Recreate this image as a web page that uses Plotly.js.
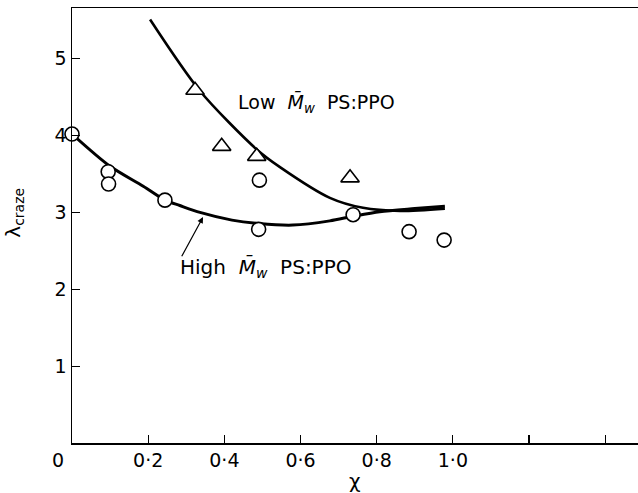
<!DOCTYPE html>
<html>
<head>
<meta charset="utf-8">
<script src="https://cdn.plot.ly/plotly-3.0.1.min.js"></script>
<style>html,body{margin:0;padding:0;background:#fff;}#chart{width:638px;height:493px;}</style>
</head>
<body>
<div id="chart"></div>
<script>
// High Mw PS:PPO data points (open circles)
const highX = [0.0, 0.095, 0.096, 0.244, 0.49, 0.492, 0.738, 0.885, 0.977];
const highY = [4.02, 3.53, 3.37, 3.16, 2.78, 3.42, 2.97, 2.75, 2.64];
// Low Mw PS:PPO data points (open triangles)
const lowX = [0.323, 0.393, 0.485, 0.730];
const lowY = [4.59, 3.86, 3.73, 3.45];
// Fitted curves
const highCurveX = [0.0, 0.1, 0.187, 0.244, 0.283, 0.336, 0.42, 0.491, 0.58, 0.677, 0.738, 0.808, 0.9, 0.979];
const highCurveY = [4.02, 3.60, 3.34, 3.16, 3.09, 3.00, 2.90, 2.855, 2.835, 2.89, 2.95, 3.01, 3.05, 3.08];
const lowCurveX = [0.205, 0.336, 0.485, 0.546, 0.677, 0.764, 0.861, 0.979];
const lowCurveY = [5.51, 4.58, 3.82, 3.59, 3.19, 3.06, 3.02, 3.05];
// Axis ticks
const xTickVals = [0.2, 0.4, 0.6, 0.8, 1.0, 1.2, 1.4];
const xTickText = ['0·2', '0·4', '0·6', '0·8', '1·0', '', ''];
const yTickVals = [1, 2, 3, 4, 5];
const yTickText = ['1', '2', '3', '4', '5'];

const FONT = 'DejaVu Sans, Arial, sans-serif';
const traces = [
  {x: highCurveX, y: highCurveY, mode: 'lines', line: {color: '#000', width: 3, shape: 'spline', smoothing: 0.8}, hoverinfo: 'skip'},
  {x: lowCurveX, y: lowCurveY, mode: 'lines', line: {color: '#000', width: 2.6, shape: 'spline', smoothing: 0.8}, hoverinfo: 'skip'},
  {x: highX, y: highY, mode: 'markers', marker: {symbol: 'circle', size: 14, color: '#fff', line: {color: '#000', width: 1.6}}, cliponaxis: false},
  {x: lowX, y: lowY, mode: 'markers', marker: {symbol: 'triangle-up', size: 16, color: '#fff', line: {color: '#000', width: 1.6}}, cliponaxis: false}
];

const layout = {
  width: 638, height: 493,
  margin: {l: 72, r: 0, t: 8, b: 50},
  paper_bgcolor: '#fff', plot_bgcolor: '#fff',
  showlegend: false,
  font: {family: FONT, color: '#000', size: 19},
  xaxis: {
    range: [0, 1.486], showgrid: false, zeroline: false,
    showline: true, mirror: true, linecolor: '#000', linewidth: 1.5,
    ticks: 'inside', ticklen: 8, tickwidth: 1.2, tickcolor: '#000',
    tickvals: xTickVals, ticktext: xTickText,
    tickfont: {family: FONT, size: 19, color: '#000'}
  },
  yaxis: {
    range: [0, 5.66], showgrid: false, zeroline: false,
    showline: true, mirror: false, linecolor: '#000', linewidth: 1.5,
    ticks: 'inside', ticklen: 8, tickwidth: 1.2, tickcolor: '#000',
    tickvals: yTickVals, ticktext: yTickText,
    tickfont: {family: FONT, size: 19, color: '#000'}
  },
  annotations: [
    {x: 0.643, y: 4.43, xref: 'x', yref: 'y', showarrow: false,
     text: 'Low&nbsp;&nbsp;<i>M̄</i><sub><i>w</i></sub>&nbsp;&nbsp;PS:PPO', font: {family: FONT, size: 19}},
    {x: 0.508, y: 2.28, xref: 'x', yref: 'y', showarrow: false,
     text: 'High&nbsp;&nbsp;<i>M̄</i><sub><i>w</i></sub>&nbsp;&nbsp;PS:PPO', font: {family: FONT, size: 20}},
    {x: 0.344, y: 2.94, xref: 'x', yref: 'y', ax: 0.286, ay: 2.41, axref: 'x', ayref: 'y',
     text: '', showarrow: true, arrowhead: 2, arrowsize: 1, arrowwidth: 1.2, arrowcolor: '#000'},
    {x: -0.025, y: -0.04, xref: 'paper', yref: 'paper', xanchor: 'center', yanchor: 'middle', showarrow: false,
     text: '0', font: {family: FONT, size: 19}},
    {x: 0.5, y: -0.088, xref: 'paper', yref: 'paper', xanchor: 'center', yanchor: 'middle', showarrow: false,
     text: 'χ', font: {family: FONT, size: 20}},
    {x: -0.102, y: 0.53, xref: 'paper', yref: 'paper', xanchor: 'center', yanchor: 'middle', showarrow: false, textangle: -90,
     text: 'λ<sub>craze</sub>', font: {family: FONT, size: 20}}
  ]
};

Plotly.newPlot('chart', traces, layout, {displayModeBar: false, staticPlot: true});
</script>
</body>
</html>
